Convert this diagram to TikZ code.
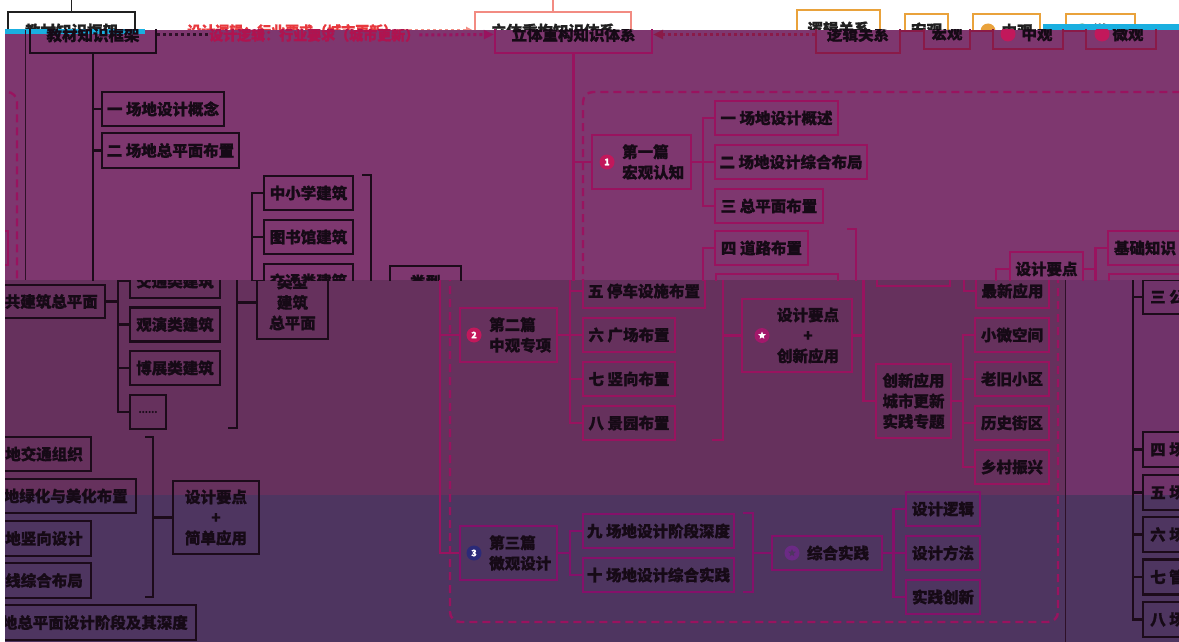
\documentclass[tikz,border=0pt]{standalone}
\usepackage{fontspec}
\setmainfont{Noto Sans CJK SC}[BoldFeatures={FakeBold=1}]
\usetikzlibrary{arrows.meta,shapes.geometric}
\definecolor{bgA}{HTML}{7E376F}
\definecolor{bgB}{HTML}{66315D}
\definecolor{bgC}{HTML}{4E3560}
\definecolor{bgR}{HTML}{70336A}
\definecolor{bgD}{HTML}{4E3560}
\definecolor{mg}{HTML}{99135F}
\definecolor{mgC}{HTML}{85106A}
\definecolor{blk}{HTML}{1C0B1A}
\definecolor{txt}{HTML}{160A16}
\definecolor{rtc}{HTML}{B0134F}
\definecolor{dkr}{HTML}{8A1A48}
\definecolor{icr}{HTML}{C2185B}
\definecolor{stA}{HTML}{A3186B}
\definecolor{stB}{HTML}{6B2A85}
\definecolor{navy}{HTML}{2B2A78}
\definecolor{gblack}{HTML}{202020}
\definecolor{gpink}{HTML}{F28B82}
\definecolor{gorange}{HTML}{E9A23B}
\definecolor{gred}{HTML}{E8383D}
\definecolor{ggreen}{HTML}{3A9A5A}
\definecolor{cyanS}{HTML}{1AAFE0}
\definecolor{thinl}{HTML}{2E1028}
\newcommand\mybox[6]{\node[#1,minimum width=#4pt,minimum height=#5pt] (#2) at (#3) {#6};}
\tikzset{
 bx/.style={draw=blk, line width=2.4pt, inner sep=0pt, text=txt, font=\bfseries\fontsize{15.5}{20.5}\selectfont, align=center},
 mbx/.style={bx, draw=mg},
 mbxC/.style={bx, draw=mgC},
 dbx/.style={bx, draw=dkr},
 bl/.style={draw=blk, line width=2.4pt},
 ml/.style={draw=mg, line width=2.4pt},
 mlC/.style={draw=mgC, line width=2.4pt},
 dl/.style={draw=dkr, line width=2.4pt},
 tx/.style={inner sep=0pt, text=txt, font=\bfseries\fontsize{15.5}{20.5}\selectfont, align=left},
 dsh/.style={draw=mg, line width=2.4pt, dash pattern=on 8pt off 5pt, rounded corners=10pt},
 dotl/.style={line width=3pt, dash pattern=on 3pt off 3pt},
 icn/.style={circle, inner sep=0pt, minimum size=15pt, text=white, font=\bfseries\fontsize{9}{9}\selectfont},
 stf/.style={star, star points=5, star point ratio=2.2, fill=white, inner sep=0pt, minimum size=8pt},
 gbx/.style={bx, line width=1.6pt},
}
\begin{document}
\begin{tikzpicture}[x=1pt,y=-1pt]
\useasboundingbox (0,0) rectangle (1179,642);
\fill[white] (0,0) rectangle (1179,642);
% ---------- ghost strip ----------
\begin{scope}
\clip (0,0) rectangle (1179,30);
\mybox{gbx,draw=gblack,text=gblack}{g1}{71.5,31}{127}{38}{教材知识框架}
\coordinate (gt1) at (71.5,0);
\draw[draw=gblack,line width=1.6pt] (g1.north) -- (gt1);
\node[tx, text=gred, font=\bfseries\fontsize{14}{14}\selectfont, anchor=west] (g2) at (187,31) {设计逻辑：行业要求（城市更新）};
\mybox{gbx,draw=gpink,text=gblack}{g3}{553,31}{156}{38}{立体重构知识体系}
\coordinate (gt3) at (553,0);
\draw[draw=gpink,line width=1.6pt] (g3.north) -- (gt3);
\draw[draw=gpink, dotl, -{Triangle[length=8pt,width=8pt]}] (g2.east) -- (g3.west);
\mybox{gbx,draw=gorange,text=gblack}{g4}{838.5,29}{83}{38}{逻辑关系}
\mybox{gbx,draw=gorange,text=gblack}{g5}{926.5,30}{43}{32}{宏观}
\mybox{gbx,draw=gorange}{g6}{1006.5,30}{67}{32}{}
\mybox{gbx,draw=gorange}{g7}{1100.5,30}{69}{32}{}
\node[icn, fill=gorange] (g6i) at (988,31) {};
\node[tx, text=gblack] (g6t) at (1017,31) {中观};
\node[icn, fill=ggreen] (g7i) at (1082,31) {};
\node[tx, text=gblack] (g7t) at (1108,31) {微观};
\end{scope}
% ---------- backgrounds ----------
\fill[bgA] (5,30) rectangle (1179,280);
\fill[bgB] (5,280) rectangle (1065,495);
\fill[bgC] (5,495) rectangle (1065,642);
\fill[bgR] (1065,280) rectangle (1179,495);
\fill[bgD] (1065,495) rectangle (1179,642);
\fill[cyanS] (5,29) rectangle (145,34);
\fill[cyanS] (1043,24) rectangle (1179,30);
% ---------- band 1 ----------
\begin{scope}
\clip (5,30) rectangle (1179,280);
% wrapped strip at left
\draw[dsh] (-30,92) -- (17,92) -- (17,300);
\mybox{mbx}{jcw}{-29,248}{74}{34}{}
\draw[draw=thinl, line width=1pt] (25,30) -- (25,280);
% left tree
\mybox{bx}{jk}{93,35}{126}{36}{教材知识框架}
\coordinate (jkb) at (93,300);
\draw[bl] (jk.south) -- (jkb);
\mybox{bx}{k1}{163,109}{122}{34}{一 场地设计概念}
\mybox{bx}{k2}{170.5,150.5}{137}{35}{二 场地总平面布置}
\draw[bl] (k1.west) -- (k1.west -| jk.south);
\draw[bl] (k2.west) -- (k2.west -| jk.south);
\mybox{bx}{m1}{308.5,193}{89}{34}{中小学建筑}
\mybox{bx}{m2}{308.5,237}{89}{34}{图书馆建筑}
\mybox{bx}{m3}{308.5,281}{89}{34}{交通类建筑}
\coordinate (mj) at (252,300);
\draw[bl] (m1.west) -| (mj);
\draw[bl] (m2.west) -- ++(-12,0);
\draw[bl] (m3.west) -- ++(-12,0);
\coordinate (mr1) at (362,175); \coordinate (mr2) at (371,175); \coordinate (mr3) at (371,300);
\draw[bl] (mr1) -- (mr2) -- (mr3);
\mybox{bx}{ty}{425.5,302.5}{71}{73}{类型\\建筑\\总平面}
% top line
\node[tx, text=rtc, font=\bfseries\fontsize{14}{14}\selectfont, anchor=west] (rt) at (209,35) {设计逻辑：行业要求（城市更新）};
\draw[dotl, draw=thinl] (jk.east) -- (rt.west);
\mybox{mbx}{lt}{573.5,34.5}{157}{37}{立体重构知识体系}
\draw[dotl, draw=mg, -{Triangle[length=10pt,width=9pt]}] (rt.east) -- (lt.west);
\mybox{dbx}{lg}{858,34.5}{84}{37}{逻辑关系}
\draw[dotl, draw=dkr, -{Triangle[length=10pt,width=9pt]}] (lg.west) -- (lt.east);
\mybox{dbx}{hg}{947,33}{46}{32}{宏观}
\mybox{dbx}{zg}{1028,33}{70}{32}{}
\mybox{dbx}{wg}{1121,33}{70}{32}{}
\node[icn, fill=icr] (zgi) at (1008,34) {};
\node[tx] (zgt) at (1037,34) {中观};
\node[icn, fill=icr] (wgi) at (1102,34) {};
\node[tx] (wgt) at (1128,34) {微观};
\draw[dl] (lg.east |- 0,31) -- (hg.west |- 0,31);
\draw[dl] (hg.east |- 0,31) -- (zg.west |- 0,31);
\draw[dl] (zg.east |- 0,31) -- (wg.west |- 0,31);
% main tree
\coordinate (ltb) at (573.5,300);
\draw[ml] (lt.south) -- (ltb);
\draw[dsh] (583,300) -- (583,92) -- (1210,92);
\mybox{mbx}{p1}{641.5,162}{99}{54}{}
\node[icn, fill=icr] (c1) at (607,162) {1};
\node[tx, anchor=west] (t1) at (622,162) {第一篇\\宏观认知};
\draw[ml] (p1.west) -- (p1.west -| lt.south);
\coordinate (j1) at (703,162);
\mybox{mbx}{a1}{776.5,118}{123}{34}{一 场地设计概述}
\mybox{mbx}{a2}{791,162}{152}{34}{二 场地设计综合布局}
\mybox{mbx}{a3}{769,206}{108}{34}{三 总平面布置}
\mybox{mbx}{a4}{761.5,248}{93}{34}{四 道路布置}
\mybox{mbx}{a5}{777,291}{122}{34}{五 停车设施布置}
\draw[ml] (p1.east) -- (j1);
\draw[ml] (j1) |- (a1.west);
\draw[ml] (j1) |- (a2.west);
\draw[ml] (j1) |- (a3.west);
\coordinate (q2b) at (703,300);
\draw[ml] (a4.west) -| (q2b);
\coordinate (br1) at (847,229); \coordinate (br2) at (856,229); \coordinate (br3) at (856,300);
\draw[ml] (br1) -- (br2) -- (br3);
\mybox{mbx}{d2}{1046.5,269}{73}{34}{设计要点}
\coordinate (d2j) at (996,300);
\draw[ml] (d2.west) -| (d2j);
\mybox{mbx}{jc}{1145,248}{74}{34}{基础知识}
\mybox{mbx}{zx}{1145.5,291}{73}{34}{最新应用}
\coordinate (j6) at (1095.5,269);
\draw[ml] (d2.east) -- (j6);
\draw[ml] (j6) |- (jc.west);
\draw[ml] (j6) |- (zx.west);
\end{scope}
% ---------- band 2 and 3 ----------
\begin{scope}
\clip (5,280) rectangle (1065,642);
% left tree
\mybox{bx}{n3}{37,301.5}{136}{33}{}
\node[tx, anchor=east] (n3t) at (98,301.5) {公共建筑总平面};
\coordinate (jb) at (118,301.5);
\draw[bl] (n3.east) -- (jb);
\mybox{bx}{m3b}{175,281}{90}{34}{交通类建筑}
\mybox{bx}{m4}{175,324.5}{90}{34}{观演类建筑}
\mybox{bx}{m5}{175,368}{90}{34}{博展类建筑}
\mybox{bx}{m6}{148,412}{36}{34}{\fontsize{9}{9}\selectfont ......}
\draw[bl] (jb) |- (m3b.west);
\draw[bl] (jb) |- (m4.west);
\draw[bl] (jb) |- (m5.west);
\draw[bl] (jb) |- (m6.west);
\coordinate (rb1) at (228,428); \coordinate (rb2) at (237,428); \coordinate (rb3) at (237,260);
\draw[bl] (rb1) -- (rb2) -- (rb3);
\mybox{bx}{ty2}{292.5,302.5}{71}{73}{类型\\建筑\\总平面}
\draw[bl] (ty2.west) -- ++(-20,0);
\mybox{bx}{o4}{30,454}{122}{34}{}
\node[tx, anchor=east] (o4t) at (83,454) {地交通组织};
\mybox{bx}{o5}{52.5,496}{167}{34}{}
\node[tx, anchor=east] (o5t) at (128,496) {地绿化与美化布置};
\mybox{bx}{o6}{30,538.5}{122}{35}{}
\node[tx, anchor=east] (o6t) at (83,538.5) {地竖向设计};
\mybox{bx}{o7}{30,580.5}{122}{35}{}
\node[tx, anchor=east] (o7t) at (83,580.5) {线综合布局};
\mybox{bx}{o8}{82.5,622.5}{227}{35}{}
\node[tx, anchor=east] (o8t) at (188,622.5) {地总平面设计阶段及其深度};
\coordinate (lb1) at (145,437); \coordinate (lb2) at (153,437); \coordinate (lb3) at (153,597); \coordinate (lb4) at (145,597);
\draw[bl] (lb1) -- (lb2) -- (lb3) -- (lb4);
\mybox{bx}{sj}{216,517.5}{86}{73}{设计要点\\+\\简单应用}
\draw[bl] (sj.west) -- (sj.west -| lb2);
% main tree
\draw[dsh] (450,260) -- (450,622) -- (1058,622) -- (1058,260);
\mybox{mbx}{p2}{508.5,335}{97}{54}{}
\mybox{mbxC}{p3}{508.5,553}{97}{54}{}
\coordinate (tk2) at (440,260);
\draw[ml] (p3.west) -| (tk2);
\draw[ml] (p2.west) -- ++(-20,0);
\node[icn, fill=icr] (c2) at (474,335) {2};
\node[tx, anchor=west] (t2) at (489,335) {第二篇\\中观专项};
\node[icn, fill=navy] (c3) at (474,553) {3};
\node[tx, anchor=west] (t3) at (489,553) {第三篇\\微观设计};
\coordinate (j2) at (570,335);
\coordinate (j2t) at (570,260);
\mybox{mbx}{b5}{644,291}{122}{34}{五 停车设施布置}
\mybox{mbx}{b6}{629,335}{92}{34}{六 广场布置}
\mybox{mbx}{b7}{629,379}{92}{34}{七 竖向布置}
\mybox{mbx}{b8}{629,423}{92}{34}{八 景园布置}
\draw[ml] (p2.east) -- (j2);
\draw[ml] (j2) -- (j2t);
\draw[ml] (j2) |- (b6.west);
\draw[ml] (j2) |- (b7.west);
\draw[ml] (j2) |- (b8.west);
\draw[ml] (j2) |- (b5.west);
\coordinate (k21) at (712,440); \coordinate (k22) at (723,440); \coordinate (k23) at (723,260);
\draw[ml] (k21) -- (k22) -- (k23);
\mybox{mbx}{sd}{797,335.5}{110}{73}{}
\node[icn, fill=stA] (c4) at (762,335.5) {};
\node[stf] (c4s) at (c4) {};
\node[tx, align=center] (sdt) at (808,335.5) {设计要点\\+\\创新应用};
\draw[ml] (sd.west) -- (sd.west -| k22);
\coordinate (j3) at (863.5,335.5);
\coordinate (j3t) at (863.5,260);
\mybox{mbx}{cx}{913.5,401}{75}{74}{创新应用\\城市更新\\实践专题}
\draw[ml] (sd.east) -- (j3);
\draw[ml] (j3) -- (j3t);
\draw[ml] (j3) |- (cx.west);
\mybox{mbx}{d2b}{913.5,269}{73}{34}{}
\mybox{mbx}{zx2}{1012.5,291}{73}{34}{最新应用}
\draw[ml] (d2b.east) -- ++(13,0) |- (zx2.west);
\coordinate (j4) at (963,401);
\mybox{mbx}{s1}{1012,335}{74}{34}{小微空间}
\mybox{mbx}{s2}{1012,379}{74}{34}{老旧小区}
\mybox{mbx}{s3}{1012,423}{74}{34}{历史街区}
\mybox{mbx}{s4}{1012,467}{74}{34}{乡村振兴}
\draw[ml] (cx.east) -- (j4);
\draw[ml] (j4) |- (s1.west);
\draw[ml] (j4) |- (s2.west);
\draw[ml] (j4) |- (s3.west);
\draw[ml] (j4) |- (s4.west);
% band 3
\coordinate (j5) at (570,553);
\mybox{mbxC}{n9}{658.5,531}{151}{34}{九 场地设计阶段深度}
\mybox{mbxC}{n10}{658.5,575}{151}{34}{十 场地设计综合实践}
\draw[mlC] (p3.east) -- (j5);
\draw[mlC] (j5) |- (n9.west);
\draw[mlC] (j5) |- (n10.west);
\coordinate (k31) at (743,513); \coordinate (k32) at (753,513); \coordinate (k33) at (753,592); \coordinate (k34) at (743,592);
\draw[mlC] (k31) -- (k32) -- (k33) -- (k34);
\mybox{mbxC}{zh}{827,553}{110}{34}{}
\node[icn, fill=stB] (c5) at (792,553) {};
\node[stf, fill=bgC] (c5s) at (c5) {};
\node[tx] (zht) at (838,553) {综合实践};
\draw[mlC] (zh.west) -- (zh.west -| k32);
\coordinate (j7) at (893.5,553);
\mybox{mbxC}{e1}{943,509}{74}{34}{设计逻辑}
\mybox{mbxC}{e2}{943,553}{74}{34}{设计方法}
\mybox{mbxC}{e3}{943,597}{74}{34}{实践创新}
\draw[mlC] (zh.east) -- (j7);
\draw[mlC] (j7) |- (e1.west);
\draw[mlC] (j7) |- (e2.west);
\draw[mlC] (j7) |- (e3.west);
\end{scope}
% ---------- right strip ----------
\begin{scope}
\clip (1065,280) rectangle (1179,642);
\coordinate (vl1) at (1065,280); \coordinate (vl2) at (1065,642);
\draw[draw=thinl, line width=1.2pt] (vl1) -- (vl2);
\mybox{bx}{r3}{1170,297}{54}{34}{}
\mybox{bx}{r4}{1170,449.5}{54}{35}{}
\mybox{bx}{r5}{1170,492.5}{54}{35}{}
\mybox{bx}{r6}{1170,534.5}{54}{35}{}
\mybox{bx}{r7}{1170,577}{54}{35}{}
\mybox{bx}{r8}{1170,619.5}{54}{35}{}
\coordinate (jr) at (1133,297); \coordinate (jrt) at (1133,270);
\draw[bl] (r3.west) -- (jr) -- (jrt);
\draw[bl] (jr) |- (r4.west);
\draw[bl] (jr) |- (r5.west);
\draw[bl] (jr) |- (r6.west);
\draw[bl] (jr) |- (r7.west);
\draw[bl] (jr) |- (r8.west);
\node[tx, anchor=west] (r3t) at (1150,297) {三 公};
\node[tx, anchor=west] (r4t) at (1150,449.5) {四 场};
\node[tx, anchor=west] (r5t) at (1150,492.5) {五 场};
\node[tx, anchor=west] (r6t) at (1150,534.5) {六 场};
\node[tx, anchor=west] (r7t) at (1150,577) {七 管};
\node[tx, anchor=west] (r8t) at (1150,619.5) {八 场};
\end{scope}
\end{tikzpicture}
\end{document}
